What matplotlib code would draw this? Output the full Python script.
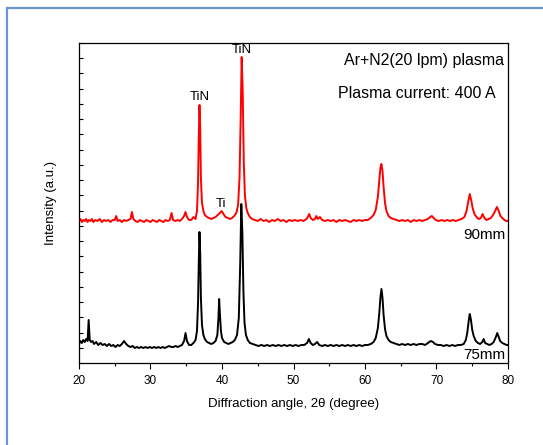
import matplotlib
matplotlib.use('Agg')
import matplotlib.pyplot as plt
from matplotlib import rcParams
from matplotlib.patches import Rectangle
from matplotlib.ticker import MultipleLocator
import numpy as np

rcParams['font.family'] = ['Liberation Sans', 'DejaVu Sans']

# 2theta / intensity (a.u., black = 75 mm, red = 90 mm)
x_75 = [20.0, 20.2, 20.4, 20.6, 20.8, 21.0, 21.2, 21.35, 21.5, 21.7, 21.9, 22.1, 22.4, 22.7,
        23.0, 23.3, 23.6, 23.9, 24.2, 24.5, 24.8, 25.1, 25.4, 25.7, 26.0, 26.3, 26.6, 26.9,
        27.2, 27.5, 27.8, 28.1, 28.4, 28.7, 29.0, 29.3, 29.6, 29.9, 30.2, 30.5, 30.8, 31.1,
        31.4, 31.7, 32.0, 32.3, 32.6, 32.9, 33.2, 33.5, 33.8, 34.1, 34.4, 34.7, 34.9, 35.1,
        35.4, 35.7, 36.0, 36.3, 36.5, 36.65, 36.75, 36.85, 36.95, 37.05, 37.2, 37.4, 37.6,
        37.9, 38.2, 38.5, 38.8, 39.1, 39.35, 39.5, 39.6, 39.7, 39.85, 40.0, 40.3, 40.6, 40.9,
        41.2, 41.5, 41.8, 42.1, 42.35, 42.55, 42.7, 42.85, 43.0, 43.15, 43.35, 43.6, 43.9,
        44.3, 44.7, 45.1, 45.5, 45.9, 46.3, 46.7, 47.1, 47.5, 47.9, 48.3, 48.7, 49.1, 49.5,
        49.9, 50.3, 50.7, 51.1, 51.5, 51.9, 52.15, 52.4, 52.7, 53.0, 53.3, 53.6, 54.0, 54.4,
        54.8, 55.2, 55.6, 56.0, 56.4, 56.8, 57.2, 57.6, 58.0, 58.4, 58.8, 59.2, 59.6, 60.0,
        60.4, 60.8, 61.2, 61.5, 61.8, 62.0, 62.15, 62.3, 62.45, 62.6, 62.8, 63.0, 63.3, 63.6,
        64.0, 64.4, 64.8, 65.2, 65.6, 66.0, 66.4, 66.8, 67.2, 67.6, 68.0, 68.4, 68.8, 69.2,
        69.5, 69.8, 70.2, 70.6, 71.0, 71.4, 71.8, 72.2, 72.6, 73.0, 73.4, 73.8, 74.1, 74.3,
        74.5, 74.65, 74.8, 75.0, 75.2, 75.5, 75.8, 76.1, 76.4, 76.6, 76.8, 77.1, 77.4, 77.7,
        78.0, 78.3, 78.5, 78.7, 78.9, 79.2, 79.5, 79.8, 80.0]
y_75 = [19, 22, 20, 23, 21, 24, 22, 43, 23, 21, 22, 19, 21, 18,
        20, 18, 19, 17, 19, 17, 18, 16, 18, 17, 19, 22, 19, 17,
        16, 17, 15, 16, 15, 16, 15, 16, 15, 16, 15, 16, 15, 16,
        15, 16, 15, 16, 17, 16, 16, 17, 16, 17, 18, 22, 30, 22,
        18, 18, 20, 23, 32, 60, 100, 131, 110, 65, 38, 28, 24,
        21, 20, 19, 20, 22, 28, 45, 64, 50, 32, 25, 21, 20, 19,
        20, 21, 23, 28, 45, 100, 159, 130, 70, 40, 28, 23, 20,
        19, 18, 17, 18, 17, 18, 17, 18, 17, 18, 17, 18, 17, 18,
        17, 18, 17, 18, 18, 20, 24, 20, 18, 19, 21, 18, 17, 18,
        17, 18, 17, 18, 17, 18, 17, 18, 17, 18, 17, 18, 17, 18,
        18, 19, 21, 25, 35, 50, 65, 74, 65, 48, 34, 27, 23, 21,
        20, 19, 18, 19, 18, 19, 18, 19, 18, 19, 19, 18, 20, 22,
        21, 19, 18, 18, 17, 18, 17, 18, 17, 18, 18, 19, 23, 30,
        42, 49, 44, 33, 27, 22, 20, 19, 21, 24, 20, 19, 18, 19,
        21, 26, 30, 26, 22, 20, 19, 18, 18]

x_90 = [20.0, 20.2, 20.4, 20.6, 20.8, 21.0, 21.2, 21.4, 21.6, 21.8, 22.0, 22.3, 22.6, 22.9,
        23.2, 23.5, 23.8, 24.1, 24.4, 24.7, 25.0, 25.2, 25.4, 25.7, 26.0, 26.3, 26.6, 26.9,
        27.2, 27.4, 27.6, 27.9, 28.2, 28.5, 28.8, 29.1, 29.4, 29.7, 30.0, 30.3, 30.6, 30.9,
        31.2, 31.5, 31.8, 32.1, 32.4, 32.7, 32.95, 33.15, 33.5, 33.8, 34.1, 34.4, 34.7, 34.9,
        35.1, 35.4, 35.7, 36.0, 36.15, 36.3, 36.5, 36.65, 36.75, 36.85, 36.95, 37.05, 37.2,
        37.4, 37.6, 37.9, 38.2, 38.5, 38.8, 39.1, 39.4, 39.7, 39.95, 40.2, 40.5, 40.8, 41.1,
        41.4, 41.7, 42.0, 42.25, 42.45, 42.6, 42.75, 42.9, 43.05, 43.2, 43.4, 43.6, 43.9,
        44.2, 44.6, 45.0, 45.4, 45.8, 46.2, 46.6, 47.0, 47.4, 47.8, 48.2, 48.6, 49.0, 49.4,
        49.8, 50.2, 50.6, 51.0, 51.4, 51.8, 52.0, 52.2, 52.4, 52.7, 53.0, 53.2, 53.4, 53.7,
        54.0, 54.4, 54.8, 55.2, 55.6, 56.0, 56.4, 56.8, 57.2, 57.6, 58.0, 58.4, 58.8, 59.2,
        59.6, 60.0, 60.4, 60.8, 61.2, 61.5, 61.8, 62.0, 62.15, 62.3, 62.45, 62.6, 62.8, 63.0,
        63.3, 63.6, 64.0, 64.4, 64.8, 65.2, 65.6, 66.0, 66.4, 66.8, 67.2, 67.6, 68.0, 68.4,
        68.8, 69.1, 69.35, 69.6, 69.9, 70.3, 70.7, 71.1, 71.5, 71.9, 72.3, 72.7, 73.1, 73.5,
        73.9, 74.2, 74.45, 74.65, 74.85, 75.05, 75.3, 75.6, 75.9, 76.2, 76.45, 76.7, 77.0,
        77.3, 77.6, 77.9, 78.2, 78.45, 78.7, 78.95, 79.2, 79.5, 79.8, 80.0]
y_90 = [142, 144, 141, 143, 142, 144, 141, 143, 142, 144, 141, 143, 142, 144,
        141, 143, 142, 143, 141, 143, 143, 147, 142, 143, 141, 143, 142, 143,
        144, 151, 144, 142, 141, 143, 142, 141, 143, 142, 141, 143, 142, 141,
        143, 142, 141, 143, 142, 143, 150, 143, 142, 143, 142, 144, 147, 151,
        146, 143, 143, 146, 145, 144, 152, 180, 225, 258, 235, 185, 160,
        152, 148, 146, 145, 144, 145, 146, 148, 150, 152, 149, 146, 145, 144,
        145, 147, 150, 158, 185, 240, 306, 270, 200, 168, 155, 150, 146,
        144, 143, 142, 144, 142, 143, 141, 143, 142, 144, 142, 143, 141, 143,
        142, 143, 142, 143, 142, 144, 146, 149, 145, 143, 144, 147, 144, 146,
        143, 142, 143, 142, 143, 141, 143, 142, 143, 142, 141, 143, 142, 143,
        142, 143, 143, 145, 148, 153, 166, 182, 195, 199, 192, 176, 160, 152,
        147, 145, 144, 143, 142, 143, 142, 143, 141, 143, 142, 143, 142, 143,
        144, 146, 147, 145, 143, 142, 143, 142, 143, 142, 143, 142, 143, 144,
        146, 152, 162, 169, 163, 155, 149, 146, 144, 145, 149, 145, 143,
        144, 145, 148, 152, 156, 152, 147, 145, 143, 142, 142]

fig = plt.figure(figsize=(5.43, 4.45), dpi=100)
# blue frame around the picture
fig.patches.append(Rectangle((6.5 / 543, -0.1), 1.2, 1 - 8.5 / 445 + 0.1,
                             transform=fig.transFigure, fill=False,
                             ec='#6a96d2', lw=1.6))

ax = fig.add_axes([79 / 543, 82 / 445, 429 / 543, 320 / 445])
ax.plot(x_75, y_75, color='black', lw=1.4)
ax.plot(x_90, y_90, color='#ff0000', lw=1.4)

ax.set_xlim(20, 80)
ax.set_ylim(0, 320)
ax.xaxis.set_major_locator(MultipleLocator(10))
ax.xaxis.set_minor_locator(MultipleLocator(5))
ax.set_yticks(np.linspace(0, 320, 22))
ax.tick_params(axis='x', which='major', direction='out', length=4.5, width=0.8,
               labelsize=8.5, pad=4, top=False)
ax.tick_params(axis='x', which='minor', direction='out', length=2.5, width=0.8, top=False)
ax.tick_params(axis='y', direction='in', length=3, width=0.8, labelleft=False, right=False)
for s in ax.spines.values():
    s.set_linewidth(0.9)

ax.set_xlabel('Diffraction angle, 2θ (degree)', fontsize=9.5, labelpad=8)
ax.set_ylabel('Intensity (a.u.)', fontsize=9.5, labelpad=16)

ax.text(36.85, 260, 'TiN', ha='center', va='bottom', fontsize=9.5)
ax.text(42.75, 307, 'TiN', ha='center', va='bottom', fontsize=9.5)
ax.text(39.9, 153, 'Ti', ha='center', va='bottom', fontsize=9.5)
ax.text(79.5, 303, 'Ar+N2(20 lpm) plasma', ha='right', va='center', fontsize=11.5)
ax.text(78.3, 270, 'Plasma current: 400 A', ha='right', va='center', fontsize=11.5)
ax.text(79.7, 128, '90mm', ha='right', va='center', fontsize=11)
ax.text(79.7, 8, '75mm', ha='right', va='center', fontsize=11)

fig.savefig('out.png', dpi=100)
